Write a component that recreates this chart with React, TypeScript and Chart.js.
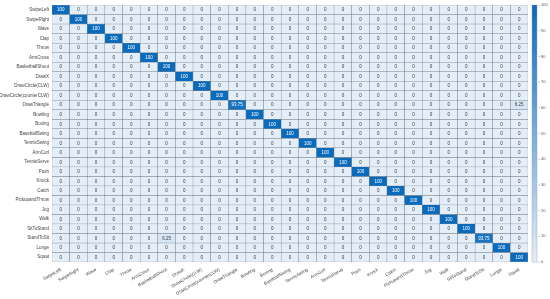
import React, { useEffect, useRef } from "react";
import { Chart, registerables } from "chart.js";

Chart.register(...registerables);

const classes = [
  "SwipeLeft", "SwipeRight", "Wave", "Clap", "Throw", "ArmCross", "BasketballShoot",
  "DrawX", "DrawCircle(CLW)", "DrawCircle(counterCLW)", "DrawTriangle", "Bowling",
  "Boxing", "BaseballSwing", "TennisSwing", "ArmCurl", "TennisServe", "Push", "Knock",
  "Catch", "PickupandThrow", "Jog", "Walk", "SitToStand", "StandToSit", "Lunge", "Squat",
];

const diagonal = [
  100, 100, 100, 100, 100, 100, 100, 100, 100, 100, 93.75, 100, 100, 100, 100, 100,
  100, 100, 100, 100, 100, 100, 100, 100, 93.75, 100, 100,
];

const offDiagonal = [
  { row: "DrawTriangle", col: "Squat", value: 6.25 },
  { row: "StandToSit", col: "BasketballShoot", value: 6.25 },
];

const colorbarTicks = [0, 10, 20, 30, 40, 50, 60, 70, 80, 90, 100];

const LIGHT = [228, 238, 248];
const DARK = [10, 107, 189];
const FONT = "'Liberation Sans', Arial, sans-serif";

function colorFor(v: number) {
  const t = Math.max(0, Math.min(1, v / 100));
  const c = LIGHT.map((l, i) => Math.round(l + (DARK[i] - l) * t));
  return `rgb(${c[0]},${c[1]},${c[2]})`;
}

function buildMatrix() {
  const n = classes.length;
  const m: number[][] = [];
  for (let r = 0; r < n; r++) {
    m.push(classes.map((_, c) => (c === r ? diagonal[r] : 0)));
  }
  offDiagonal.forEach((o) => {
    m[classes.indexOf(o.row)][classes.indexOf(o.col)] = o.value;
  });
  return m;
}

function zeroPad(s: any) {
  s.paddingTop = 0;
  s.paddingBottom = 0;
  s.paddingLeft = 0;
  s.paddingRight = 0;
}

export default function App() {
  const ref = useRef<HTMLCanvasElement>(null);
  useEffect(() => {
    if (!ref.current) return;
    const matrix = buildMatrix();
    const datasets = classes.map((name, r) => ({
      label: name,
      data: classes.map(() => [r - 0.5, r + 0.5]),
      backgroundColor: matrix[r].map((v) => colorFor(v)),
      borderColor: "rgba(95,105,115,0.75)",
      borderWidth: 0.5,
      borderSkipped: false,
      grouped: false,
      barPercentage: 1,
      categoryPercentage: 1,
      values: matrix[r],
    }));

    const textPlugin = {
      id: "cellText",
      afterDatasetsDraw(chart: any) {
        const ctx = chart.ctx;
        ctx.save();
        ctx.font = `4.5px ${FONT}`;
        ctx.textAlign = "center";
        ctx.textBaseline = "middle";
        chart.data.datasets.forEach((ds: any, di: number) => {
          const meta = chart.getDatasetMeta(di);
          meta.data.forEach((el: any, j: number) => {
            const v = ds.values[j];
            ctx.fillStyle = v > 50 ? "#ffffff" : "#3a3a3a";
            const cy = (el.y + el.base) / 2;
            ctx.fillText(String(v), el.x, cy + 0.3);
          });
        });
        ctx.restore();
      },
    };

    const colorbarPlugin = {
      id: "colorbar",
      afterDraw(chart: any) {
        const s = chart.scales.cb;
        const ctx = chart.ctx;
        const x0 = s.left + 4;
        const w = 5;
        const top = s.getPixelForValue(100);
        const bottom = s.getPixelForValue(0);
        const g = ctx.createLinearGradient(0, bottom, 0, top);
        g.addColorStop(0, colorFor(0));
        g.addColorStop(1, colorFor(100));
        ctx.save();
        ctx.fillStyle = g;
        ctx.fillRect(x0, top, w, bottom - top);
        ctx.strokeStyle = "rgba(150,160,170,0.8)";
        ctx.lineWidth = 0.5;
        ctx.strokeRect(x0, top, w, bottom - top);
        ctx.strokeStyle = "rgba(90,90,90,0.8)";
        colorbarTicks.forEach((t) => {
          const y = s.getPixelForValue(t);
          ctx.beginPath();
          ctx.moveTo(x0 + w + 1.5, y);
          ctx.lineTo(x0 + w + 3, y);
          ctx.stroke();
        });
        ctx.restore();
      },
    };

    const chart = new Chart(ref.current, {
      type: "bar",
      data: { labels: classes, datasets: datasets as any },
      options: {
        animation: false,
        responsive: false,
        maintainAspectRatio: false,
        layout: { padding: { top: 5, left: 0, right: 0, bottom: 0 } },
        plugins: { legend: { display: false }, tooltip: { enabled: false } },
        scales: {
          x: {
            type: "category",
            offset: true,
            grid: { display: false, drawTicks: false },
            border: { display: false },
            ticks: {
              autoSkip: false,
              minRotation: 30,
              maxRotation: 30,
              padding: 5,
              color: "#444",
              font: { size: 4.5, family: FONT },
            },
            afterFit(s: any) {
              s.height = 37;
              zeroPad(s);
            },
          },
          y: {
            type: "linear",
            reverse: true,
            min: -0.5,
            max: classes.length - 0.5,
            grid: { display: false, drawTicks: false },
            border: { display: false },
            afterBuildTicks(s: any) {
              s.ticks = classes.map((_, i) => ({ value: i }));
            },
            ticks: {
              autoSkip: false,
              padding: 3,
              color: "#444",
              font: { size: 4.5, family: FONT },
              callback: (v: any) => classes[v as number],
            },
            afterFit(s: any) {
              s.width = 52;
              zeroPad(s);
            },
          },
          cb: {
            type: "linear",
            position: "right",
            min: 0,
            max: 100,
            grid: { display: false, drawTicks: false },
            border: { display: false },
            afterBuildTicks(s: any) {
              s.ticks = colorbarTicks.map((v) => ({ value: v }));
            },
            ticks: {
              padding: 13,
              color: "#555",
              font: { size: 4, family: FONT },
            },
            afterFit(s: any) {
              s.width = 22;
              zeroPad(s);
            },
          },
        },
      } as any,
      plugins: [textPlugin, colorbarPlugin],
    });
    return () => chart.destroy();
  }, []);

  return (
    <div style={{ position: "absolute", left: 0, top: 0, width: 550, height: 299, background: "#fff" }}>
      <canvas ref={ref} width={550} height={299} />
    </div>
  );
}
